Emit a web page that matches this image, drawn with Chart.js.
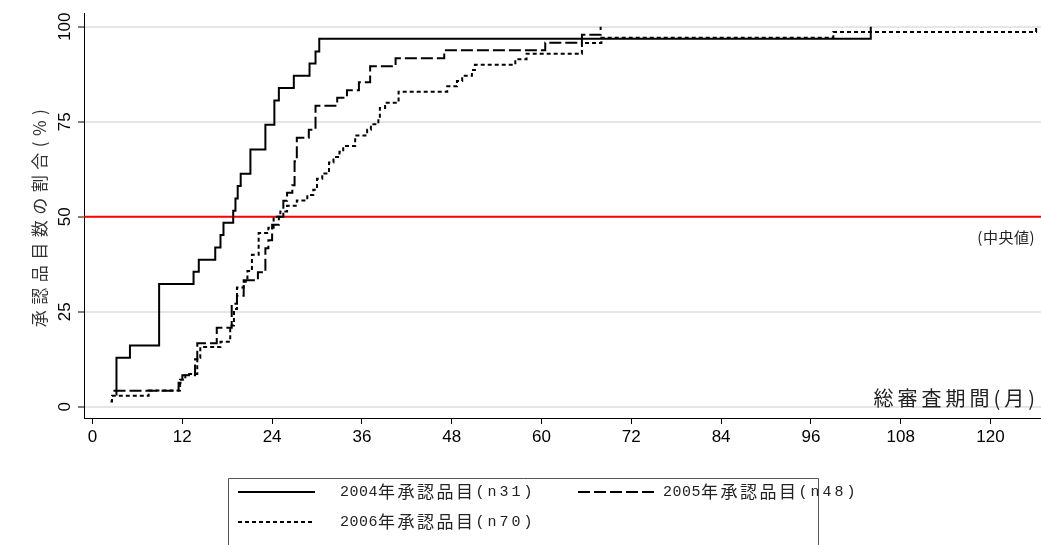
<!DOCTYPE html>
<html><head><meta charset="utf-8">
<script src="https://cdn.jsdelivr.net/npm/chart.js@4.4.1/dist/chart.umd.min.js"></script>
<style>html,body{margin:0;padding:0;background:#fff;}canvas{display:block;}</style>
</head><body>
<canvas id="c" width="1041" height="545"></canvas>
<script>
// ---- data ----
const xTickLabels = [0, 12, 24, 36, 48, 60, 72, 84, 96, 108, 120];
const yTickLabels = [0, 25, 50, 75, 100];
const seriesNames = ['2004年承認品目(n31)', '2005年承認品目(n48)', '2006年承認品目(n70)'];

// 2004 (n=31): months, cumulative %
const months2004 = [3.1, 3.2, 5.0, 8.9, 13.5, 14.2, 16.4, 17.1, 17.5, 18.8, 19.1, 19.4, 19.8, 21.1, 23.1, 24.3, 24.9, 26.9, 29.0, 29.8, 30.3, 104.0];
const pct2004   = [3.2, 12.9, 16.1, 32.3, 35.5, 38.7, 41.9, 45.2, 48.4, 51.6, 54.8, 58.1, 61.3, 67.7, 74.2, 80.6, 83.9, 87.1, 90.3, 93.5, 96.8, 100];

// 2005 (n=48)
const months2005 = [2.8, 11.5, 12.0, 13.7, 14.0, 16.6, 18.6, 19.3, 20.2, 22.1, 23.1, 23.5, 24.0, 24.9, 25.5, 26.0, 26.7, 27.0, 27.3, 28.9, 29.8, 32.7, 34.0, 35.6, 37.1, 40.5, 47.0, 60.5, 65.4, 67.9];
const pct2005   = [4.2, 6.3, 8.3, 12.5, 16.7, 20.8, 27.1, 29.2, 33.3, 35.4, 41.7, 43.8, 47.9, 50.0, 54.2, 56.3, 58.3, 64.6, 70.8, 72.9, 79.2, 81.3, 83.3, 85.4, 89.6, 91.7, 93.8, 95.8, 97.9, 100];

// 2006 (n=70)
const months2006 = [2.4, 2.6, 7.5, 11.7, 12.4, 14.0, 14.4, 17.1, 18.4, 18.9, 19.3, 20.2, 20.7, 21.3, 22.2, 23.5, 24.2, 25.1, 26.0, 27.3, 28.7, 29.5, 30.0, 30.7, 31.6, 32.2, 33.0, 33.5, 35.1, 36.7, 37.2, 38.2, 38.4, 39.1, 40.9, 47.4, 48.7, 49.4, 50.7, 51.1, 56.5, 58.0, 65.4, 68.0, 99.0, 126.1];
const pct2006   = [1.4, 2.9, 4.3, 7.1, 8.6, 12.9, 15.7, 17.1, 21.4, 25.7, 31.4, 32.9, 35.7, 40.0, 45.7, 47.1, 50.0, 51.4, 52.9, 54.3, 55.7, 57.1, 60.0, 61.4, 64.3, 65.7, 67.1, 68.6, 71.4, 72.9, 74.3, 75.7, 78.6, 80.0, 82.9, 84.3, 85.7, 87.1, 88.6, 90.0, 91.4, 92.9, 95.7, 97.1, 98.6, 100];

const medianValue = 50;
const xMin = -1.14, xMax = 126.75;
const yMin = -2.95, yMax = 103.6;

const pts = (xs, ys) => xs.map((x, i) => ({x, y: ys[i]}));

const styles = [
  {dash: []},
  {dash: [12, 4]},
  {dash: [4, 3]}
];

const textPlugin = {
  id: 'texts',
  afterDraw(chart) {
    const ctx = chart.ctx;
    const ys = chart.scales.y, ca = chart.chartArea;
    ctx.save();
    // rotated y tick labels
    ctx.fillStyle = '#000';
    ctx.font = '17px "Liberation Sans", Arial, sans-serif';
    ctx.textAlign = 'center';
    ctx.textBaseline = 'middle';
    yTickLabels.forEach(v => {
      ctx.save();
      ctx.translate(65, ys.getPixelForValue(v));
      ctx.rotate(-Math.PI / 2);
      ctx.fillText(String(v), 0, 0);
      ctx.restore();
    });
    // y title
    ctx.save();
    ctx.fillStyle = '#333';
    ctx.font = '17px "Noto Sans CJK JP", sans-serif';
    ctx.letterSpacing = '5.5px';
    ctx.translate(40, (ca.top + ca.bottom) / 2);
    ctx.rotate(-Math.PI / 2);
    ctx.fillText('承認品目数の割合(%)', 0, 0);
    ctx.restore();
    // annotations
    ctx.textAlign = 'right';
    ctx.fillStyle = '#222';
    ctx.font = '15px "Noto Sans CJK JP", sans-serif';
    ctx.letterSpacing = '0.5px';
    ctx.fillText('(中央値)', 1035, ys.getPixelForValue(medianValue) + 21);
    ctx.font = '20px "Noto Sans CJK JP", sans-serif';
    ctx.letterSpacing = '4px';
    ctx.fillText('総審査期間(月)', 1039, ys.getPixelForValue(0) - 8);
    ctx.letterSpacing = '0px';
    // legend box
    ctx.strokeStyle = '#555';
    ctx.lineWidth = 1;
    ctx.beginPath();
    ctx.moveTo(228.5, 546); ctx.lineTo(228.5, 478.5); ctx.lineTo(818.5, 478.5); ctx.lineTo(818.5, 546);
    ctx.stroke();
    const entries = [
      {i: 0, sx: 238, ty: 492, tx: 340},
      {i: 1, sx: 578, ty: 492, tx: 663},
      {i: 2, sx: 238, ty: 522, tx: 340}
    ];
    entries.forEach(e => {
      const ds = chart.data.datasets[e.i];
      ctx.save();
      ctx.strokeStyle = ds.borderColor;
      ctx.lineWidth = 2;
      ctx.setLineDash(ds.borderDash || []);
      ctx.beginPath();
      ctx.moveTo(e.sx, e.ty); ctx.lineTo(e.sx + 77, e.ty);
      ctx.stroke();
      ctx.restore();
      const name = seriesNames[e.i];
      const m = name.match(/^(\d+)(.+?)(\(.*\))$/);
      ctx.textAlign = 'left';
      ctx.fillStyle = '#222';
      let x = e.tx;
      ctx.font = '15px "Liberation Mono", monospace';
      ctx.letterSpacing = '0.5px';
      ctx.fillText(m[1], x, e.ty);
      x += ctx.measureText(m[1]).width;
      ctx.font = '17px "Noto Sans CJK JP", sans-serif';
      ctx.letterSpacing = '2.5px';
      ctx.fillText(m[2], x, e.ty);
      x += ctx.measureText(m[2]).width;
      ctx.font = '15px "Liberation Mono", monospace';
      ctx.letterSpacing = '3px';
      ctx.fillText(m[3], x, e.ty);
      ctx.letterSpacing = '0px';
    });
    ctx.restore();
  }
};

new Chart(document.getElementById('c'), {
  type: 'line',
  data: {
    datasets: [
      {label: seriesNames[0], data: pts(months2004, pct2004), borderColor: '#000', borderWidth: 2, borderDash: styles[0].dash, stepped: 'before', pointRadius: 0, fill: false, order: 1},
      {label: seriesNames[1], data: pts(months2005, pct2005), borderColor: '#000', borderWidth: 2, borderDash: styles[1].dash, stepped: 'before', pointRadius: 0, fill: false, order: 2},
      {label: seriesNames[2], data: pts(months2006, pct2006), borderColor: '#000', borderWidth: 2, borderDash: styles[2].dash, stepped: 'before', pointRadius: 0, fill: false, order: 3},
      {label: '中央値', data: [{x: xMin, y: medianValue}, {x: xMax, y: medianValue}], borderColor: '#ff0000', borderWidth: 2, pointRadius: 0, fill: false, order: 10}
    ]
  },
  options: {
    responsive: false,
    animation: false,
    devicePixelRatio: 1,
    layout: {padding: {left: 0, right: 0, top: 13, bottom: 82}},
    plugins: {legend: {display: false}, tooltip: {enabled: false}},
    scales: {
      x: {
        type: 'linear', min: xMin, max: xMax,
        afterBuildTicks: s => { s.ticks = xTickLabels.map(v => ({value: v})); },
        afterFit: s => { s.height = 45; },
        grid: {drawOnChartArea: false, color: '#000', tickColor: '#000', tickLength: 6, lineWidth: 1},
        border: {color: '#000', width: 1},
        ticks: {color: '#000', font: {family: '"Liberation Sans", Arial, sans-serif', size: 17}, maxRotation: 0, autoSkip: false, padding: 3}
      },
      y: {
        type: 'linear', min: yMin, max: yMax,
        afterBuildTicks: s => { s.ticks = yTickLabels.map(v => ({value: v})); },
        afterFit: s => { s.width = 84; },
        grid: {color: '#e6e6e6', lineWidth: 2, tickColor: '#000', tickWidth: 1, tickLength: 6},
        border: {color: '#000', width: 1},
        ticks: {display: false}
      }
    }
  },
  plugins: [textPlugin]
});
</script>
</body></html>
